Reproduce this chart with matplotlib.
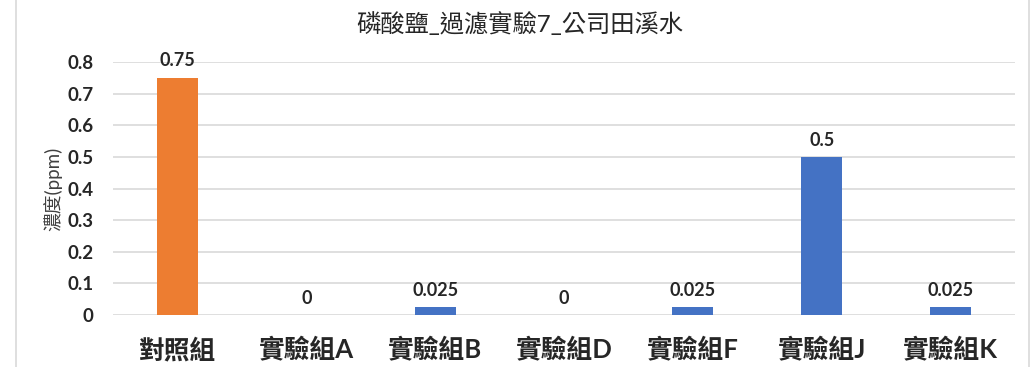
import numpy             as np
import matplotlib.pyplot as plt
from matplotlib.patches import Rectangle

plt.rcParams['font.family'] = ['Lato', 'Noto Sans CJK TC', 'DejaVu Sans']

groups = ['對照組', '實驗組A', '實驗組B', '實驗組D', '實驗組F', '實驗組J', '實驗組K']
conc   = [0.75, 0, 0.025, 0, 0.025, 0.5, 0.025]
labels = ['0.75', '0', '0.025', '0', '0.025', '0.5', '0.025']
colors = ['#ED7D31'] + ['#4472C4'] * 6

fig = plt.figure(figsize=(10.33, 3.67), dpi=100)
ax  = fig.add_axes([113/1033, 1 - 315/367, 902/1033, 253/367])

x    = np.arange(len(groups))
bars = ax.bar(x, conc, width=0.32, color=colors, zorder=3)
for b, txt in zip(bars, labels):
    ax.annotate(txt, (b.get_x() + b.get_width()/2, b.get_height()),
                xytext=(0, 6), textcoords='offset points',
                ha='center', va='bottom', fontsize=13, fontweight='bold',
                color='#262626')

ax.set_xlim(-0.5, len(groups) - 0.5)
ax.set_ylim(0, 0.8)
ax.set_yticks(np.arange(0, 0.81, 0.1))
ax.set_yticklabels(['0'] + ['%.1f' % v for v in np.arange(0.1, 0.81, 0.1)],
                   fontsize=13.5, fontweight='bold', color='#262626')
ax.set_xticks(x)
ax.set_xticklabels(groups, fontsize=18.5, fontweight='bold', color='#262626')
ax.tick_params(axis='x', length=0, pad=16)
ax.tick_params(axis='y', length=0, pad=14)
ax.grid(axis='y', color='#D9D9D9', linewidth=1.2, zorder=0)
for s in ax.spines.values():
    s.set_visible(False)

ax.set_ylabel('濃度(ppm)', fontsize=13.5, color='#404040', labelpad=4)
fig.text(520/1033, 1 - 24/367, '磷酸鹽_過濾實驗7_公司田溪水', ha='center', va='center',
         fontsize=17.5, color='#262626')

# light frame round the chart area
fig.patches.append(Rectangle((16/1033, -0.02), 1013/1033, 1.04, transform=fig.transFigure,
                             fill=False, edgecolor='#D9D9D9', linewidth=1.2))

fig.savefig('out.png', dpi=100)
